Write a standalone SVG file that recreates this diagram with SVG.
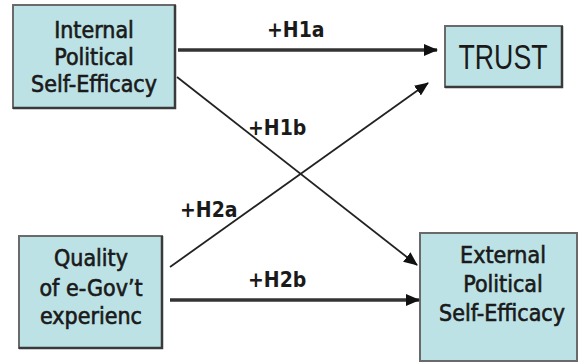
<svg xmlns="http://www.w3.org/2000/svg" width="583" height="362" viewBox="0 0 583 362">
<defs>
<style>
.box{fill:#bde2e6;stroke:#6a6a6a;stroke-width:2}
.shadow{fill:none;stroke:#3a3a3a;stroke-width:2.5}
.t{font-family:"DejaVu Sans Condensed","DejaVu Sans",sans-serif;font-size:23px;fill:#1a1a1a;stroke:#1a1a1a;stroke-width:0.6;text-anchor:middle}
.lbl{font-family:"DejaVu Sans Condensed","DejaVu Sans",sans-serif;font-size:21px;font-weight:bold;fill:#1a1a1a}
.thick{stroke:#333;stroke-width:3.5;fill:none}
.thin{stroke:#222;stroke-width:1.8;fill:none}
</style>
<marker id="ah" markerWidth="14" markerHeight="12" refX="13" refY="6" orient="auto" markerUnits="userSpaceOnUse">
<path d="M0,0 L14,6 L0,12 Z" fill="#111"/>
</marker>
</defs>
<rect width="583" height="362" fill="#fff"/>
<g id="internal">
<rect class="box" x="13" y="5" width="162" height="103"/>
<path class="shadow" d="M175,5 V108 H13"/>
<text class="t" x="94" y="38">Internal</text>
<text class="t" x="94" y="65">Political</text>
<text class="t" x="94" y="92">Self-Efficacy</text>
</g>
<g id="trust">
<rect class="box" x="445" y="26" width="117" height="61"/>
<path class="shadow" d="M562,26 V87 H445"/>
<text x="503" y="69" font-family="Liberation Sans, Arial, sans-serif" font-size="35" fill="#1a1a1a" text-anchor="middle" textLength="89" lengthAdjust="spacingAndGlyphs">TRUST</text>
</g>
<g id="quality">
<rect class="box" x="19" y="236" width="143" height="112"/>
<path class="shadow" d="M162,236 V348 H19"/>
<text class="t" x="91" y="266">Quality</text>
<text class="t" x="91" y="296">of e-Gov’t</text>
<text class="t" x="91" y="324">experienc</text>
</g>
<g id="external">
<rect class="box" x="420" y="233" width="157" height="128"/>
<text class="t" x="503" y="263">External</text>
<text class="t" x="503" y="292">Political</text>
<text class="t" x="502" y="321">Self-Efficacy</text>
</g>
<g id="connectors">
<line class="thick" x1="178" y1="50" x2="437" y2="50" marker-end="url(#ah)"/>
<line class="thin" x1="177" y1="77" x2="417" y2="265" marker-end="url(#ah)"/>
<line class="thin" x1="170" y1="267" x2="428" y2="83" marker-end="url(#ah)"/>
<line class="thick" x1="170" y1="300" x2="419" y2="300" marker-end="url(#ah)"/>
<text class="lbl" x="267" y="37">+H1a</text>
<text class="lbl" x="248" y="135">+H1b</text>
<text class="lbl" x="180" y="217">+H2a</text>
<text class="lbl" x="248" y="287">+H2b</text>
</g>
</svg>
